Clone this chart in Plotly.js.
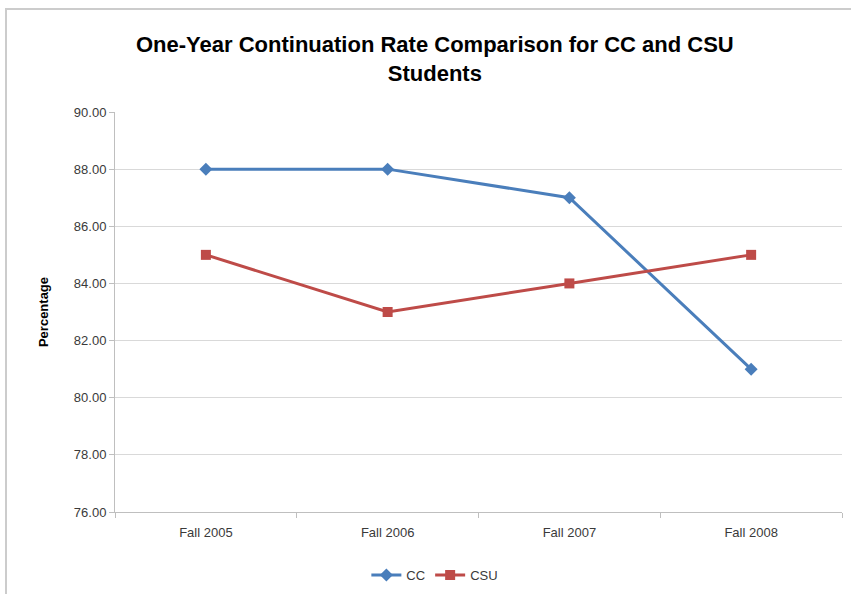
<!DOCTYPE html>
<html>
<head>
<meta charset="utf-8">
<script src="https://cdn.plot.ly/plotly-3.0.1.min.js"></script>
<style>
html,body{margin:0;padding:0;background:#fff;}
#wrap{position:relative;width:851px;height:594px;}
#chart{width:851px;height:594px;}
#frame{position:absolute;left:5px;top:8px;right:0;bottom:0;border-top:2px solid #cccccc;border-left:2px solid #cccccc;pointer-events:none;}
</style>
</head>
<body>
<div id="wrap"><div id="chart"></div><div id="frame"></div></div>
<script>
var categories = ["Fall 2005", "Fall 2006", "Fall 2007", "Fall 2008"];
var ccValues = [88, 88, 87, 81];
var csuValues = [85, 83, 84, 85];
var yTicks = [76, 78, 80, 82, 84, 86, 88, 90];

var traces = [
  {x: categories, y: ccValues, name: "CC", type: "scatter", mode: "lines+markers",
   line: {color: "#4A7EBB", width: 3}, marker: {symbol: "diamond", size: 10, color: "#4A7EBB"}},
  {x: categories, y: csuValues, name: "CSU", type: "scatter", mode: "lines+markers",
   line: {color: "#BE4B48", width: 3}, marker: {symbol: "square", size: 10, color: "#BE4B48"}}
];

var font = "Liberation Sans, Arial, sans-serif";
var layout = {
  width: 851, height: 594,
  margin: {l: 115, r: 9, t: 112, b: 82},
  paper_bgcolor: "#fff", plot_bgcolor: "#fff",
  showlegend: true,
  font: {family: font, size: 13, color: "#595959"},
  title: {text: "One-Year Continuation Rate Comparison for CC and CSU<br>Students",
          font: {family: font, size: 22, color: "#000", weight: "bold"},
          x: 0.511, xref: "container", xanchor: "center", y: 0.912, yref: "container", yanchor: "middle"},
  xaxis: {type: "category", range: [-0.5, 3.5], showgrid: false, zeroline: false,
          showline: true, linecolor: "#bfbfbf", linewidth: 1,
          tickson: "boundaries", ticks: "outside", ticklen: 5, tickcolor: "#bfbfbf",
          ticklabelstandoff: 8,
          tickfont: {size: 13, color: "#3a3a3a"}},
  yaxis: {range: [76, 90], tickvals: yTicks, tickformat: ".2f", showgrid: true,
          gridcolor: "#d9d9d9", gridwidth: 1, zeroline: false,
          showline: true, linecolor: "#bfbfbf", linewidth: 1,
          ticks: "outside", ticklen: 5, tickcolor: "#bfbfbf",
          tickfont: {size: 13, color: "#3a3a3a"},
          title: {text: "Percentage", font: {size: 13, color: "#000", weight: "bold"}, standoff: 22}},
  legend: {orientation: "h", x: 0.511, xref: "container", xanchor: "center",
           y: 0.032, yref: "container", yanchor: "middle",
           font: {size: 13, color: "#3a3a3a"}, itemwidth: 30}
};
Plotly.newPlot("chart", traces, layout, {displayModeBar: false, staticPlot: true});
</script>
</body>
</html>
